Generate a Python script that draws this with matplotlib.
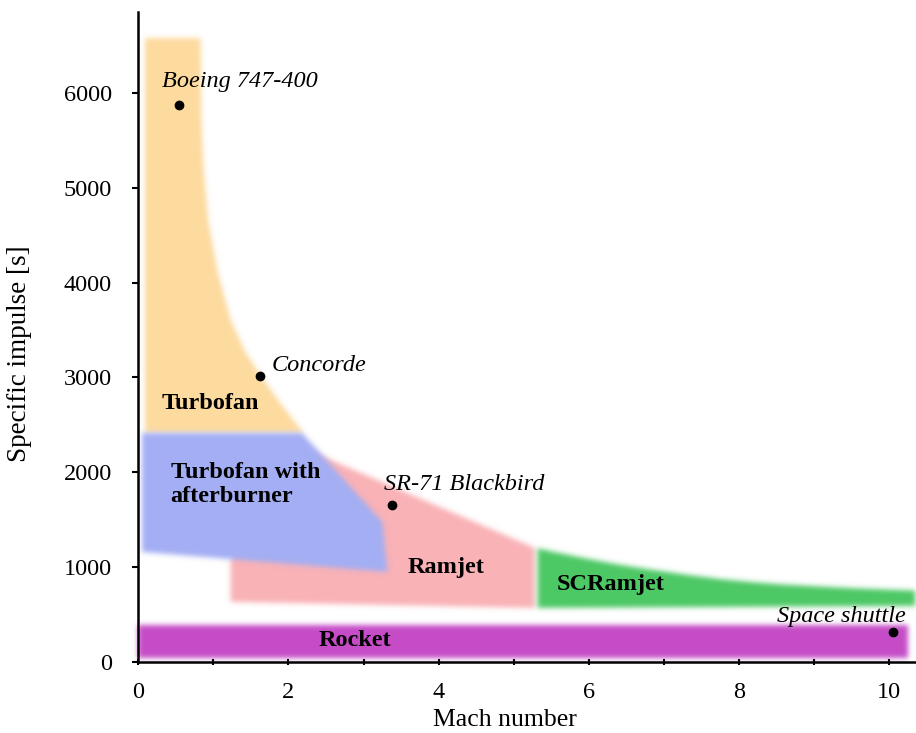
import numpy as np
import matplotlib
matplotlib.use('Agg')
import matplotlib.pyplot as plt
from matplotlib.patches import Polygon
from matplotlib.colors import to_rgb

plt.rcParams['font.family'] = ['Liberation Serif', 'DejaVu Serif']

# Outlines of the engine regions: Mach number vs specific impulse [s]
turbofan_mach = [0.09, 0.83, 0.84, 0.87, 0.93, 1.05, 1.23, 1.43, 1.67, 1.89, 2.20, 0.09]
turbofan_isp = [6580, 6580, 5720, 5190, 4660, 4135, 3610, 3260, 2975, 2730, 2415, 2415]

afterburner_mach = [0.05, 2.18, 3.25, 3.32, 0.05]
afterburner_isp = [2415, 2415, 1477, 949, 1160]

ramjet_mach = [1.23, 2.16, 5.28, 5.28, 1.23]
ramjet_isp = [1076, 2268, 1203, 570, 633]

scramjet_mach = [5.32, 5.53, 6.0, 6.42, 6.9, 7.31, 7.75, 8.19, 8.6, 9.08, 9.5, 9.97, 10.35, 10.35, 5.32]
scramjet_isp = [1199, 1160, 1085, 1023, 965, 918, 873, 840, 815, 795, 778, 763, 752, 591, 570]

rocket_mach = [0.0, 10.25, 10.25, 0.0]
rocket_isp = [40, 40, 385, 385]

# Aircraft
craft_names = ['Boeing 747-400', 'Concorde', 'SR-71 Blackbird', 'Space shuttle']
craft_mach = [0.54, 1.62, 3.38, 10.05]
craft_isp = [5876, 3010, 1656, 311]


def soft_edge(color, sigma=2.6):
    # blur the alpha of a flat-coloured patch so its borders look smeared
    rgb = to_rgb(color)
    r = int(3 * sigma) + 1
    k = np.exp(-0.5 * (np.arange(-r, r + 1) / sigma) ** 2)
    k /= k.sum()

    def f(img, dpi):
        pad = 2 * r
        a = np.pad(img[:, :, 3], pad)
        b = np.zeros_like(a)
        for i, w in enumerate(k):
            b += w * np.roll(a, i - r, axis=0)
        c = np.zeros_like(b)
        for i, w in enumerate(k):
            c += w * np.roll(b, i - r, axis=1)
        out = np.empty(c.shape + (4,))
        out[..., :3] = rgb
        out[..., 3] = c
        return out, -pad, -pad
    return f


fig = plt.figure(figsize=(9.16, 7.33), dpi=100)
ax = fig.add_axes([0.151, 0.097, 0.849, 0.887])

regions = [
    (ramjet_mach, ramjet_isp, '#f9b2b6'),
    (scramjet_mach, scramjet_isp, '#4cc864'),
    (turbofan_mach, turbofan_isp, '#fdda9e'),
    (afterburner_mach, afterburner_isp, '#a3aef4'),
    (rocket_mach, rocket_isp, '#c54cc6'),
]
for i, (mx, isp, col) in enumerate(regions):
    p = Polygon(np.column_stack([mx, isp]), closed=True, facecolor=col,
                edgecolor='none', zorder=1 + i * 0.1)
    p.set_agg_filter(soft_edge(col))
    ax.add_patch(p)

ax.plot(craft_mach, craft_isp, 'o', color='black', markersize=6, zorder=5)

fs = 17.5
ax.text(0.32, 6118, craft_names[0], style='italic', fontsize=fs, va='center', zorder=6)
ax.text(1.77, 3122, craft_names[1], style='italic', fontsize=fs, va='center', zorder=6)
ax.text(3.27, 1867, craft_names[2], style='italic', fontsize=fs, va='center', zorder=6)
ax.text(10.23, 475, craft_names[3], style='italic', fontsize=fs, va='center', ha='right', zorder=6)

ax.text(0.31, 2722, 'Turbofan', weight='bold', fontsize=fs, va='center', zorder=6)
ax.text(0.43, 1867, 'Turbofan with\nafterburner', weight='bold', fontsize=fs,
        va='center', linespacing=1.2, zorder=6)
ax.text(3.58, 992, 'Ramjet', weight='bold', fontsize=fs, va='center', zorder=6)
ax.text(5.58, 812, 'SCRamjet', weight='bold', fontsize=fs, va='center', zorder=6)
ax.text(2.89, 221, 'Rocket', weight='bold', fontsize=fs, va='center', ha='center', zorder=6)

ax.set_xlim(0, 10.36)
ax.set_ylim(0, 6857)
ax.set_xticks(np.arange(0, 11, 2))
ax.set_xticks(np.arange(1, 10, 2), minor=True)
ax.set_yticks(np.arange(0, 7000, 1000))
ax.tick_params(axis='x', which='both', direction='inout', length=5, width=1.5,
               labelsize=fs, pad=12)
ax.tick_params(axis='y', direction='out', length=4, width=1.5, labelsize=fs, pad=15)

for s in ['top', 'right']:
    ax.spines[s].set_visible(False)
for s in ['left', 'bottom']:
    ax.spines[s].set_linewidth(1.8)
    ax.spines[s].set_zorder(7)

ax.set_xlabel('Mach number', fontsize=18.5)
ax.set_ylabel('Specific impulse [s]', fontsize=19.5)
ax.xaxis.set_label_coords(0.472, -0.072)
ax.yaxis.set_label_coords(-0.137, 0.474)

fig.savefig('out.png', dpi=100)
